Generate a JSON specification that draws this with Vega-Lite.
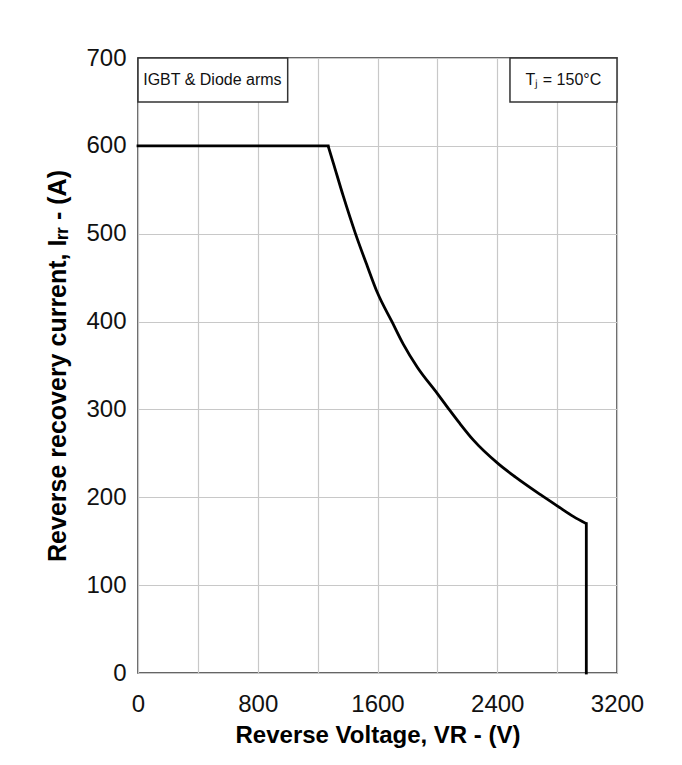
{
  "$schema": "https://vega.github.io/schema/vega-lite/v6.json",
  "width": 479,
  "height": 615,
  "autosize": {"type": "none"},
  "padding": {"left": 138, "top": 58, "right": 65, "bottom": 92},
  "background": "white",
  "config": {
    "view": {"stroke": "#333333", "strokeWidth": 1.5},
    "font": "Liberation Sans, Arial, sans-serif",
    "axis": {
      "labelFont": "Liberation Sans, Arial, sans-serif",
      "titleFont": "Liberation Sans, Arial, sans-serif",
      "labelFontSize": 24,
      "labelColor": "#111111",
      "titleFontWeight": "bold",
      "titleColor": "#000000",
      "gridColor": "#c8c8c8",
      "gridWidth": 1.2,
      "gridOpacity": 1,
      "domain": false,
      "ticks": false,
      "labelOverlap": false,
      "labelFlush": false
    }
  },
  "datasets": {
    "curve": [
      {"V": 1270, "I": 600},
      {"V": 1304, "I": 581},
      {"V": 1371, "I": 543},
      {"V": 1451, "I": 501},
      {"V": 1532, "I": 463},
      {"V": 1599, "I": 433},
      {"V": 1699, "I": 399},
      {"V": 1773, "I": 374},
      {"V": 1866, "I": 348},
      {"V": 2000, "I": 318},
      {"V": 2074, "I": 301},
      {"V": 2150, "I": 284},
      {"V": 2241, "I": 265},
      {"V": 2408, "I": 238},
      {"V": 2522, "I": 223},
      {"V": 2689, "I": 203},
      {"V": 2803, "I": 190},
      {"V": 2910, "I": 178},
      {"V": 2995, "I": 170}
    ],
    "segments": [
      {"x": 0, "x2": 1270, "y": 600, "y2": 600},
      {"x": 2995, "x2": 2995, "y": 170, "y2": 0}
    ],
    "boxes": [
      {"x": 0, "x2": 1000, "y": 650, "y2": 700},
      {"x": 2485, "x2": 3200, "y": 650, "y2": 700}
    ],
    "notes": [
      {"x": 497, "y": 675, "t": "IGBT & Diode arms"},
      {"x": 2842, "y": 675, "t": "Tⱼ = 150°C"}
    ]
  },
  "layer": [
    {
      "data": {"name": "boxes"},
      "mark": {"type": "rect", "fill": "white", "stroke": "#333333", "strokeWidth": 1.5},
      "encoding": {
        "x": {
          "field": "x", "type": "quantitative",
          "scale": {"domain": [0, 3200], "nice": false},
          "axis": {
            "values": [0, 400, 800, 1200, 1600, 2000, 2400, 2800, 3200],
            "labelExpr": "datum.value % 800 === 0 ? datum.label : ''",
            "format": "d",
            "labelPadding": 19,
            "title": "Reverse Voltage, VR - (V)",
            "titleFontSize": 24,
            "titlePadding": 7
          }
        },
        "x2": {"field": "x2"},
        "y": {
          "field": "y", "type": "quantitative",
          "scale": {"domain": [0, 700], "nice": false},
          "axis": {
            "values": [0, 100, 200, 300, 400, 500, 600, 700],
            "labelPadding": 12,
            "title": "Reverse recovery current, Iᵣᵣ - (A)",
            "titleFontSize": 25,
            "titlePadding": 15
          }
        },
        "y2": {"field": "y2"}
      }
    },
    {
      "data": {"name": "segments"},
      "mark": {"type": "rule", "color": "black", "strokeWidth": 2.8, "strokeCap": "square"},
      "encoding": {
        "x": {"field": "x", "type": "quantitative"},
        "x2": {"field": "x2"},
        "y": {"field": "y", "type": "quantitative"},
        "y2": {"field": "y2"}
      }
    },
    {
      "data": {"name": "curve"},
      "mark": {"type": "line", "color": "black", "strokeWidth": 2.8, "interpolate": "monotone"},
      "encoding": {
        "x": {"field": "V", "type": "quantitative"},
        "y": {"field": "I", "type": "quantitative"}
      }
    },
    {
      "data": {"name": "notes"},
      "mark": {"type": "text", "fontSize": 16, "color": "#111111", "align": "center", "baseline": "middle"},
      "encoding": {
        "x": {"field": "x", "type": "quantitative"},
        "y": {"field": "y", "type": "quantitative"},
        "text": {"field": "t"}
      }
    }
  ]
}
